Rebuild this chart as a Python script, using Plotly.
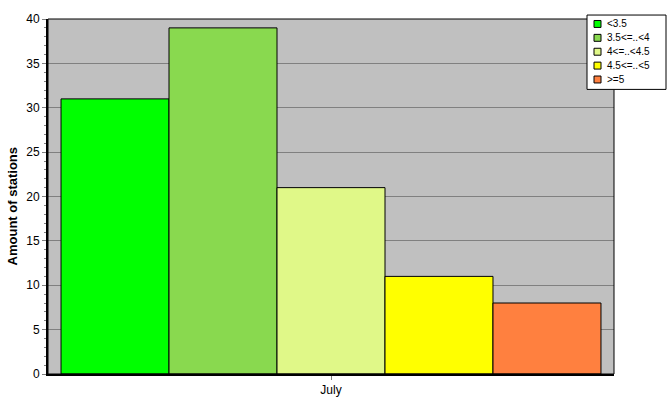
import plotly.graph_objects as go

categories = ["July"]
series_names = ["<3.5", "3.5<=..<4", "4<=..<4.5", "4.5<=..<5", ">=5"]
series_values = [31, 39, 21, 11, 8]
series_colors = ["#00FF00", "#89D94F", "#E0F888", "#FFFF00", "#FF803F"]
y_title = "Amount of stations"

W, H = 667, 415
ML, MR, MT, MB = 48, 53, 16, 41
PW = W - ML - MR
PH = H - MT - MB


def px(x):
    return (x - ML) / PW


def py(y):
    return (H - MB - y) / PH


fig = go.Figure()
for name, val, col in zip(series_names, series_values, series_colors):
    fig.add_trace(go.Bar(
        x=categories, y=[val], name=name,
        marker=dict(color=col, line=dict(color="black", width=1)),
        showlegend=False,
    ))

font = "Liberation Sans, Arial, sans-serif"

shapes = []
annotations = []
# plot frame (thin top/right)
shapes.append(dict(type="rect", xref="paper", yref="paper", x0=0, x1=1, y0=0, y1=1,
                   line=dict(color="black", width=1), layer="above"))
# manual legend box
lx0, lx1, ly0, ly1 = 587, 666, 12, 87
shapes.append(dict(type="rect", xref="paper", yref="paper",
                   x0=px(lx0), x1=px(lx1), y0=py(ly1), y1=py(ly0),
                   fillcolor="white", line=dict(color="black", width=1), layer="above"))
for i, (name, col) in enumerate(zip(series_names, series_colors)):
    cy = 21 + 14 * i
    shapes.append(dict(type="rect", xref="paper", yref="paper",
                       x0=px(594), x1=px(601), y0=py(cy + 3.5), y1=py(cy - 3.5),
                       fillcolor=col, line=dict(color="black", width=1), layer="above"))
    annotations.append(dict(xref="paper", yref="paper", x=px(605), y=py(cy),
                            xanchor="left", yanchor="middle", showarrow=False,
                            text=name, font=dict(family=font, size=10, color="black")))

# y-axis title
annotations.append(dict(xref="paper", yref="paper", x=px(12), y=py(205),
                        xanchor="center", yanchor="middle", showarrow=False,
                        textangle=-90, text="<b>" + y_title + "</b>",
                        font=dict(family=font, size=13, color="black")))

fig.update_layout(
    width=W, height=H,
    margin=dict(l=ML, r=MR, t=MT, b=MB, pad=0),
    paper_bgcolor="white", plot_bgcolor="#C0C0C0",
    barmode="group", bargap=0.046, bargroupgap=0,
    font=dict(family=font, size=12, color="black"),
    shapes=shapes, annotations=annotations,
    showlegend=False,
)
fig.update_xaxes(
    showline=True, linecolor="black", linewidth=2,
    ticks="outside", ticklen=4, tickcolor="#808080",
    showgrid=False, tickfont=dict(size=12),
)
fig.update_yaxes(
    range=[0, 40], dtick=5, tick0=0,
    showline=True, linecolor="black", linewidth=2,
    ticks="outside", ticklen=4, tickcolor="#808080",
    showgrid=True, gridcolor="#808080", gridwidth=1,
    zeroline=False,
    minor=dict(dtick=1, ticks="outside", ticklen=2, tickcolor="#808080", showgrid=False),
    tickfont=dict(size=12),
)

fig.write_html("out.html", config={"displayModeBar": False},
               post_script="document.body.style.margin='0px';")
